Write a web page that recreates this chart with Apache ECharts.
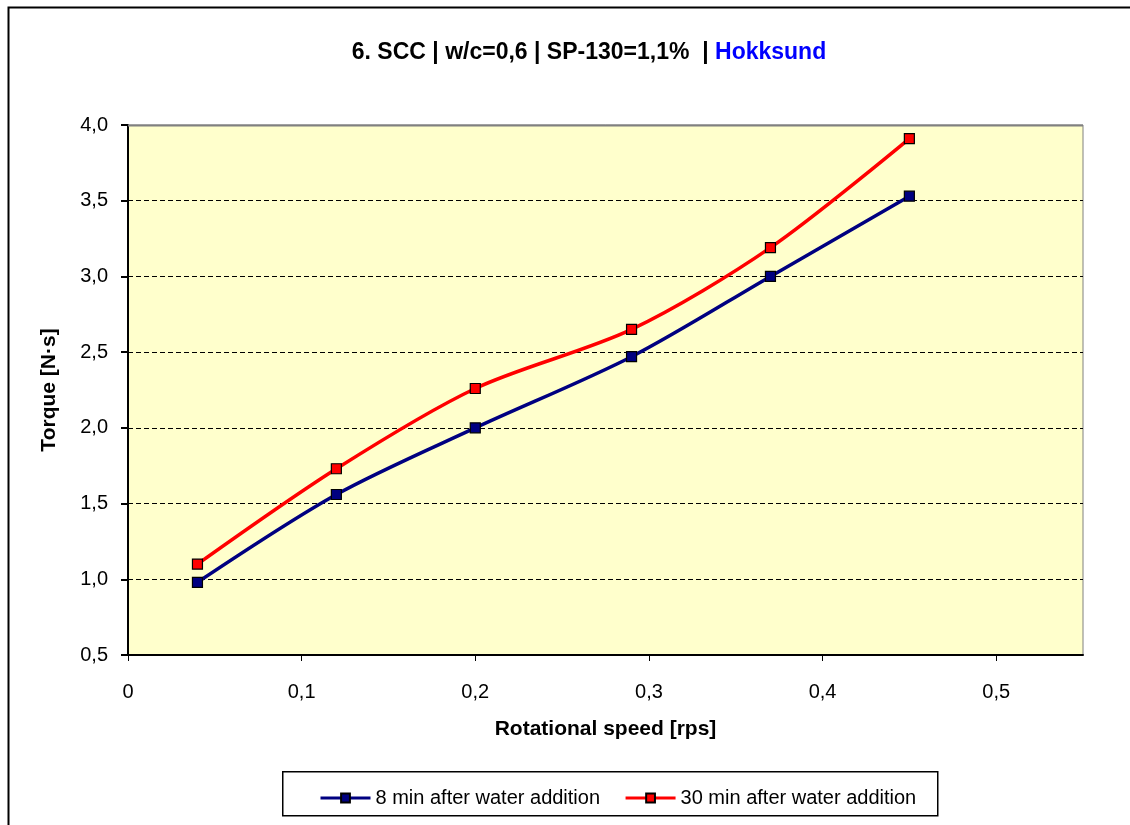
<!DOCTYPE html>
<html>
<head>
<meta charset="utf-8">
<script src="https://cdn.jsdelivr.net/npm/echarts@6/dist/echarts.min.js"></script>
<style>
  html, body { margin: 0; padding: 0; background: #fff; }
  #chart { width: 1130px; height: 825px; }
</style>
</head>
<body>
<div id="chart"></div>
<script>
// Rotational speed [rps] of each measurement
const speeds = [0.04, 0.12, 0.2, 0.29, 0.37, 0.45];
// Torque [N·s] readings
const torque8min = [0.98, 1.56, 2.00, 2.47, 3.00, 3.53];
const torque30min = [1.10, 1.73, 2.26, 2.65, 3.19, 3.91];
const seriesNames = ['8 min after water addition', '30 min after water addition'];
const xTicks = [0, 0.1, 0.2, 0.3, 0.4, 0.5];

const toPairs = (xs, ys) => xs.map((x, i) => [x, ys[i]]);
const comma = v => (v === 0 ? '0' : v.toFixed(1).replace('.', ','));

const FONT = '"Liberation Sans", Arial, sans-serif';
const GRID = { left: 128, top: 125, right: 47, bottom: 170 };
const W = 1130, H = 825;

const chart = echarts.init(document.getElementById('chart'), null, { renderer: 'canvas' });

chart.setOption({
  backgroundColor: '#ffffff',
  animation: false,
  title: {
    text: '{b|6. SCC | w/c=0,6 | SP-130=1,1%  | }{h|Hokksund}',
    left: 584, top: 36, textAlign: 'center',
    textStyle: {
      rich: {
        b: { fontFamily: FONT, fontSize: 23, fontWeight: 'bold', color: '#000' },
        h: { fontFamily: FONT, fontSize: 23, fontWeight: 'bold', color: '#0000ff' }
      }
    }
  },
  grid: {
    left: GRID.left, top: GRID.top, right: GRID.right, bottom: GRID.bottom,
    show: true, backgroundColor: '#ffffcc', borderColor: '#808080', borderWidth: 1
  },
  legend: {
    left: 314, top: 783, itemGap: 24, itemWidth: 50, itemHeight: 11,
    lineStyle: { width: 3 },
    textStyle: { fontFamily: FONT, fontSize: 20, color: '#000' },
    data: seriesNames
  },
  xAxis: {
    type: 'value', min: 0, max: 0.55, interval: 0.1,
    name: 'Rotational speed [rps]', nameLocation: 'middle', nameGap: 64,
    nameTextStyle: { fontFamily: FONT, fontSize: 21, fontWeight: 'bold', color: '#000' },
    axisLine: { show: true, lineStyle: { color: '#000', width: 2 } },
    axisTick: { show: true, inside: false, length: 6, customValues: xTicks, lineStyle: { color: '#000', width: 1 } },
    axisLabel: { customValues: xTicks, margin: 27, fontFamily: FONT, fontSize: 20, color: '#000', formatter: comma },
    splitLine: { show: false }
  },
  yAxis: {
    type: 'value', min: 0.5, max: 4, interval: 0.5,
    name: 'Torque [N·s]', nameLocation: 'middle', nameGap: 68, nameRotate: 90,
    nameTextStyle: { fontFamily: FONT, fontSize: 21, fontWeight: 'bold', color: '#000' },
    axisLine: { show: true, lineStyle: { color: '#000', width: 2 } },
    axisTick: { show: true, inside: false, length: 7, lineStyle: { color: '#000', width: 2 } },
    axisLabel: { margin: 20, fontFamily: FONT, fontSize: 20, color: '#000', formatter: comma },
    splitLine: { show: true, lineStyle: { color: '#000', width: 1, type: [5, 3] } }
  },
  series: [
    {
      name: seriesNames[0], type: 'line', smooth: 0.3,
      data: toPairs(speeds, torque8min),
      symbol: 'rect', symbolSize: 10,
      lineStyle: { color: '#000080', width: 3.5 },
      itemStyle: { color: '#000080', borderColor: '#000', borderWidth: 1.2 },
      z: 3
    },
    {
      name: seriesNames[1], type: 'line', smooth: 0.3,
      data: toPairs(speeds, torque30min),
      symbol: 'rect', symbolSize: 10,
      lineStyle: { color: '#ff0000', width: 3.5 },
      itemStyle: { color: '#ff0000', borderColor: '#000', borderWidth: 1.2 },
      z: 4
    }
  ],
  graphic: [
    // outer chart frame
    { type: 'rect', left: 6, top: 5, shape: { width: W + 20, height: H + 20 },
      style: { fill: null, stroke: '#000', lineWidth: 2 }, silent: true, z: 100 },
    // legend frame
    { type: 'rect', left: 282, top: 771, shape: { width: 655, height: 44 },
      style: { fill: '#fff', stroke: '#000', lineWidth: 1.5 }, silent: true, z: -1 },
    // gray top edge of the plot area
    { type: 'line', shape: { x1: GRID.left, y1: GRID.top + 0.5, x2: W - GRID.right, y2: GRID.top + 0.5 },
      style: { stroke: '#808080', lineWidth: 2 }, silent: true, z: 50 }
  ]
});
</script>
</body>
</html>
